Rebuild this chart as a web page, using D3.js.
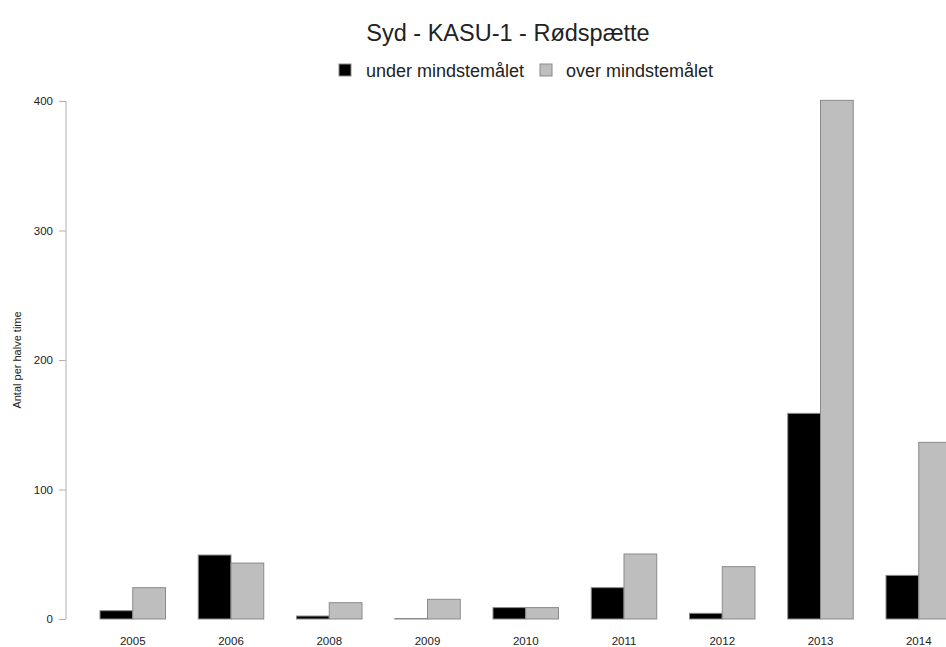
<!DOCTYPE html>
<html><head><meta charset="utf-8">
<script src="https://cdn.jsdelivr.net/npm/d3@7"></script>
<style>body{margin:0;background:#fff;} text{font-family:"Liberation Sans",Arial,sans-serif;}</style>
</head><body><svg id="c" width="946" height="647"></svg>
<script>
const years = ["2005","2006","2008","2009","2010","2011","2012","2013","2014"];
const under = [6.4, 49.4, 2.3, 0.3, 8.8, 24.2, 4.4, 158.8, 33.7];
const over = [24.2, 43.2, 12.6, 15.2, 8.8, 50.2, 40.4, 400.5, 136.4];
const seriesNames = ["under mindstemålet", "over mindstemålet"];
const seriesColors = ["#000000", "#bebebe"];
const yTicks = [0, 100, 200, 300, 400];

const svg = d3.select("#c");
const x = d3.scaleBand().domain(years).range([67.25, 951.5]).paddingInner(1/3).paddingOuter(1/6).align(1);
const xs = d3.scaleBand().domain([0,1]).range([0, x.bandwidth()]);
const y = d3.scaleLinear().domain([0, 400]).range([619, 101]);

const data = years.map((yr, i) => ({yr, vals: [under[i], over[i]]}));
const g = svg.append("g");
data.forEach(d => {
  d.vals.forEach((v, s) => {
    g.append("rect")
      .attr("x", x(d.yr) + xs(s))
      .attr("y", y(v))
      .attr("width", xs.bandwidth())
      .attr("height", Math.max(0, y(0) - y(v)))
      .attr("fill", seriesColors[s])
      .attr("stroke", "#8a8a8a")
      .attr("stroke-width", 1);
  });
});

// x labels
svg.append("g").selectAll("text").data(years).join("text")
  .attr("x", d => x(d) + x.bandwidth()/2)
  .attr("y", 645)
  .attr("text-anchor", "middle")
  .attr("font-size", 11.5).attr("fill", "#222")
  .text(d => d);

// y axis
const yAxis = d3.axisLeft(y).tickValues(yTicks).tickSize(7).tickPadding(6);
const ya = svg.append("g").attr("transform", "translate(66,0)").call(yAxis);
ya.select(".domain").attr("stroke", "#b0b0b0").attr("d", `M0,${y(0)}V${y(400)}`);
ya.selectAll(".tick line").attr("stroke", "#b0b0b0");
ya.selectAll(".tick text").attr("font-size", 11.5).attr("fill", "#222").attr("font-family", "Liberation Sans, Arial, sans-serif");

svg.append("text").attr("transform", "translate(21,360) rotate(-90)")
  .attr("text-anchor", "middle").attr("font-size", 11).attr("fill", "#222")
  .text("Antal per halve time");

// title
svg.append("text").attr("x", 508).attr("y", 41).attr("text-anchor", "middle")
  .attr("font-size", 23.5).attr("fill", "#222").text("Syd - KASU-1 - Rødspætte");

// legend
const leg = [{x: 339, tx: 366}, {x: 540, tx: 566}];
seriesNames.forEach((n, i) => {
  svg.append("rect").attr("x", leg[i].x).attr("y", 64).attr("width", 12).attr("height", 12)
    .attr("fill", seriesColors[i]).attr("stroke", "#8a8a8a");
  svg.append("text").attr("x", leg[i].tx).attr("y", 77).attr("font-size", 18).attr("fill", "#222").text(n);
});
</script></body></html>
